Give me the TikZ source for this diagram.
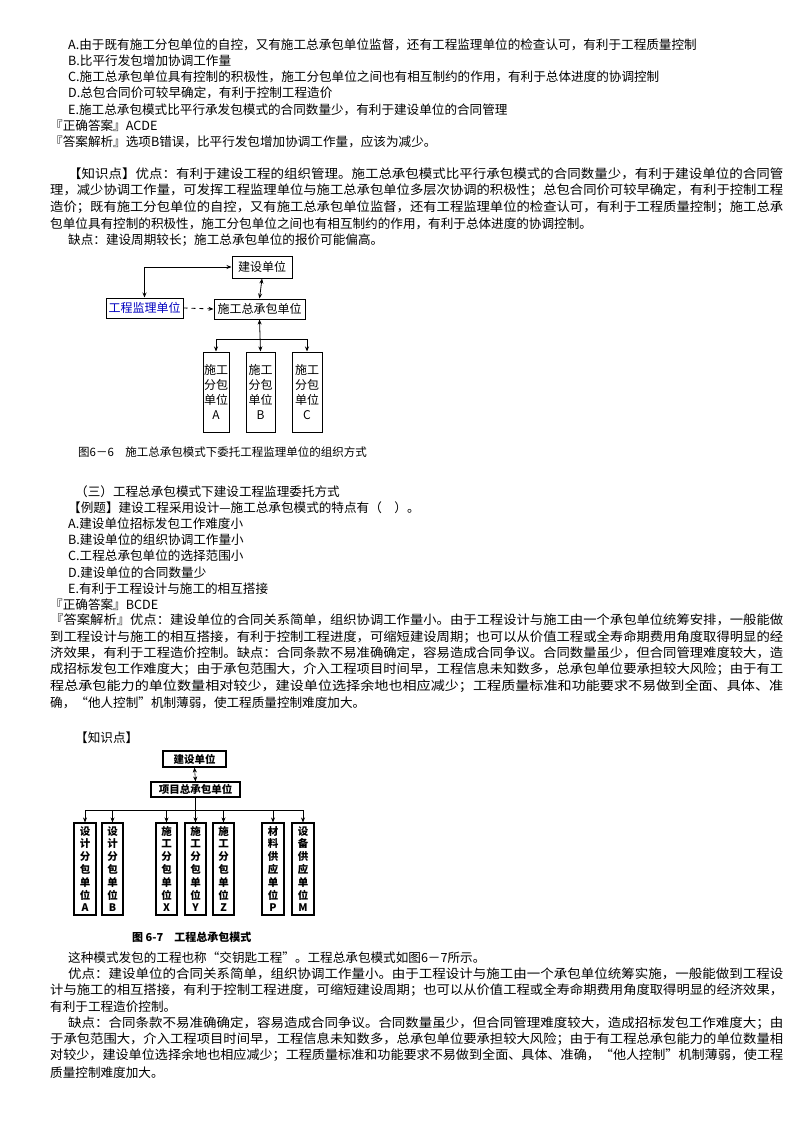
\documentclass[tikz,border=0pt]{standalone}
\usepackage{fontspec}
\usepackage{graphicx}
\setmainfont{Noto Sans CJK SC}
\usetikzlibrary{arrows.meta}
\tikzset{
 ln/.style={anchor=west,inner sep=0pt,font=\fontsize{12.6}{14}\selectfont},
 bx/.style={draw,line width=1pt,inner sep=0pt,font=\fontsize{12}{14}\selectfont},
 vb/.style={draw,line width=1pt,inner sep=0pt,align=center,font=\fontsize{12}{15}\selectfont},
 wb/.style={draw,line width=1.1pt,inner sep=0pt,align=center,font=\bfseries\fontsize{10.5}{12.8}\selectfont},
 ar/.style={-{Stealth[length=5pt,width=4pt]},line width=0.8pt},
 dar/.style={{Stealth[length=5pt,width=4pt]}-{Stealth[length=5pt,width=4pt]},line width=0.8pt},
}
\begin{document}
\begin{tikzpicture}[x=1pt,y=-1pt]
\useasboundingbox (0,0) rectangle (800,1132);
\fill[white] (0,0) rectangle (800,1132);
\node[ln] (l1) at (68,45) {A.由于既有施工分包单位的自控，又有施工总承包单位监督，还有工程监理单位的检查认可，有利于工程质量控制};
\node[ln] (l2) at (68,61) {B.比平行发包增加协调工作量};
\node[ln] (l3) at (68,77) {C.施工总承包单位具有控制的积极性，施工分包单位之间也有相互制约的作用，有利于总体进度的协调控制};
\node[ln] (l4) at (68,93) {D.总包合同价可较早确定，有利于控制工程造价};
\node[ln] (l5) at (68,110) {E.施工总承包模式比平行承发包模式的合同数量少，有利于建设单位的合同管理};
\node[ln] (l6) at (50,126) {『正确答案』ACDE};
\node[ln] (l7) at (50,142) {『答案解析』选项B错误，比平行发包增加协调工作量，应该为减少。};
\node[ln] (p1) at (68,175) {\resizebox{715pt}{\height}{\strut 【知识点】优点：有利于建设工程的组织管理。施工总承包模式比平行承包模式的合同数量少，有利于建设单位的合同管}};
\node[ln] (p2) at (50,191) {\resizebox{733pt}{\height}{\strut 理，减少协调工作量，可发挥工程监理单位与施工总承包单位多层次协调的积极性；总包合同价可较早确定，有利于控制工程}};
\node[ln] (p3) at (50,208) {\resizebox{733pt}{\height}{\strut 造价；既有施工分包单位的自控，又有施工总承包单位监督，还有工程监理单位的检查认可，有利于工程质量控制；施工总承}};
\node[ln] (p4) at (50,224) {包单位具有控制的积极性，施工分包单位之间也有相互制约的作用，有利于总体进度的协调控制。};
\node[ln] (p5) at (68,240) {缺点：建设周期较长；施工总承包单位的报价可能偏高。};
% diagram 1
\node[bx,minimum width=60pt,minimum height=22pt] (js) at (262,267) {建设单位};
\node[bx,minimum width=77pt,minimum height=20pt,text=blue!75!black] (jl) at (144.5,308) {工程监理单位};
\node[bx,minimum width=91pt,minimum height=20pt] (sz) at (259.5,309) {施工总承包单位};
\node[vb,minimum width=26pt,minimum height=80pt] (sa) at (216,392) {施工\\分包\\单位\\A};
\node[vb,minimum width=29pt,minimum height=80pt] (sb) at (260.5,392) {施工\\分包\\单位\\B};
\node[vb,minimum width=30pt,minimum height=80pt] (sc) at (307,392) {施工\\分包\\单位\\C};
\draw[dar] (js.south) -- (sz.north);
\draw[dar] (sz.south) -- (sb.north);
\draw[dar] (jl.north) |- (js.west);
\draw[ar,dash pattern=on 4pt off 4pt] (jl.east) -- (sz.west);
\coordinate (bus) at (260,339);
\draw[ar] (bus) -| (sa.north);
\draw[ar] (bus) -| (sc.north);
\node[ln,font=\fontsize{11.5}{13}\selectfont] (cap1) at (78,452) {图6－6\quad 施工总承包模式下委托工程监理单位的组织方式};
% text 2
\node[ln] (q0) at (75,492) {（三）工程总承包模式下建设工程监理委托方式};
\node[ln] (q1) at (68,508) {【例题】建设工程采用设计—施工总承包模式的特点有（　）。};
\node[ln] (q2) at (68,524) {A.建设单位招标发包工作难度小};
\node[ln] (q3) at (68,540) {B.建设单位的组织协调工作量小};
\node[ln] (q4) at (68,556) {C.工程总承包单位的选择范围小};
\node[ln] (q5) at (68,573) {D.建设单位的合同数量少};
\node[ln] (q6) at (68,589) {E.有利于工程设计与施工的相互搭接};
\node[ln] (q7) at (50,605) {『正确答案』BCDE};
\node[ln] (r1) at (50,621) {\resizebox{733pt}{\height}{\strut 『答案解析』优点：建设单位的合同关系简单，组织协调工作量小。由于工程设计与施工由一个承包单位统筹安排，一般能做}};
\node[ln] (r2) at (50,638) {\resizebox{733pt}{\height}{\strut 到工程设计与施工的相互搭接，有利于控制工程进度，可缩短建设周期；也可以从价值工程或全寿命期费用角度取得明显的经}};
\node[ln] (r3) at (50,654) {\resizebox{733pt}{\height}{\strut 济效果，有利于工程造价控制。缺点：合同条款不易准确确定，容易造成合同争议。合同数量虽少，但合同管理难度较大，造}};
\node[ln] (r4) at (50,670) {\resizebox{733pt}{\height}{\strut 成招标发包工作难度大；由于承包范围大，介入工程项目时间早，工程信息未知数多，总承包单位要承担较大风险；由于有工}};
\node[ln] (r5) at (50,687) {\resizebox{733pt}{\height}{\strut 程总承包能力的单位数量相对较少，建设单位选择余地也相应减少；工程质量标准和功能要求不易做到全面、具体、准}};
\node[ln] (r6) at (50,703) {确，“他人控制”机制薄弱，使工程质量控制难度加大。};
\node[ln] (r7) at (75,738) {【知识点】};
% diagram 2
\node[wb,minimum width=63pt,minimum height=16pt] (d0) at (194.5,759) {建设单位};
\node[wb,minimum width=89pt,minimum height=15pt] (d1) at (195.5,789.5) {项目总承包单位};
\draw[dar,line width=0.6pt] (d0.south) -- (d1.north);
\foreach \n/\cx/\w/\t in {a/85/22/设\\计\\分\\包\\单\\位\\A, b/112.5/21/设\\计\\分\\包\\单\\位\\B, x/166.5/21/施\\工\\分\\包\\单\\位\\X, y/195.5/21/施\\工\\分\\包\\单\\位\\Y, z/223.5/21/施\\工\\分\\包\\单\\位\\Z, p/273/22/材\\料\\供\\应\\单\\位\\P, m/303/22/设\\备\\供\\应\\单\\位\\M}
  \node[wb,minimum width=\w pt,minimum height=92pt] (e\n) at (\cx,869) {\t};
\coordinate (bus2) at (195.5,810);
\draw[line width=0.6pt] (ea.north|-bus2) -- (em.north|-bus2);
\foreach \n in {a,b,x,z,p,m} \draw[ar,line width=0.6pt] (e\n.north|-bus2) -- (e\n.north);
\draw[ar,line width=0.6pt] (d1.south) -- (ey.north);
\node[ln,font=\bfseries\fontsize{11}{13}\selectfont] (cap2) at (132,937) {图 6-7\quad 工程总承包模式};
% text 3
\node[ln] (s1) at (68,958) {这种模式发包的工程也称“交钥匙工程”。工程总承包模式如图6－7所示。};
\node[ln] (s2) at (68,975) {\resizebox{715pt}{\height}{\strut 优点：建设单位的合同关系简单，组织协调工作量小。由于工程设计与施工由一个承包单位统筹实施，一般能做到工程设}};
\node[ln] (s3) at (50,991) {\resizebox{733pt}{\height}{\strut 计与施工的相互搭接，有利于控制工程进度，可缩短建设周期；也可以从价值工程或全寿命期费用角度取得明显的经济效果，}};
\node[ln] (s4) at (50,1007) {有利于工程造价控制。};
\node[ln] (s5) at (68,1024) {\resizebox{715pt}{\height}{\strut 缺点：合同条款不易准确确定，容易造成合同争议。合同数量虽少，但合同管理难度较大，造成招标发包工作难度大；由}};
\node[ln] (s6) at (50,1040) {\resizebox{733pt}{\height}{\strut 于承包范围大，介入工程项目时间早，工程信息未知数多，总承包单位要承担较大风险；由于有工程总承包能力的单位数量相}};
\node[ln] (s7) at (50,1056) {\resizebox{733pt}{\height}{\strut 对较少，建设单位选择余地也相应减少；工程质量标准和功能要求不易做到全面、具体、准确，“他人控制”机制薄弱，使工程}};
\node[ln] (s8) at (50,1073) {质量控制难度加大。};
\end{tikzpicture}
\end{document}
